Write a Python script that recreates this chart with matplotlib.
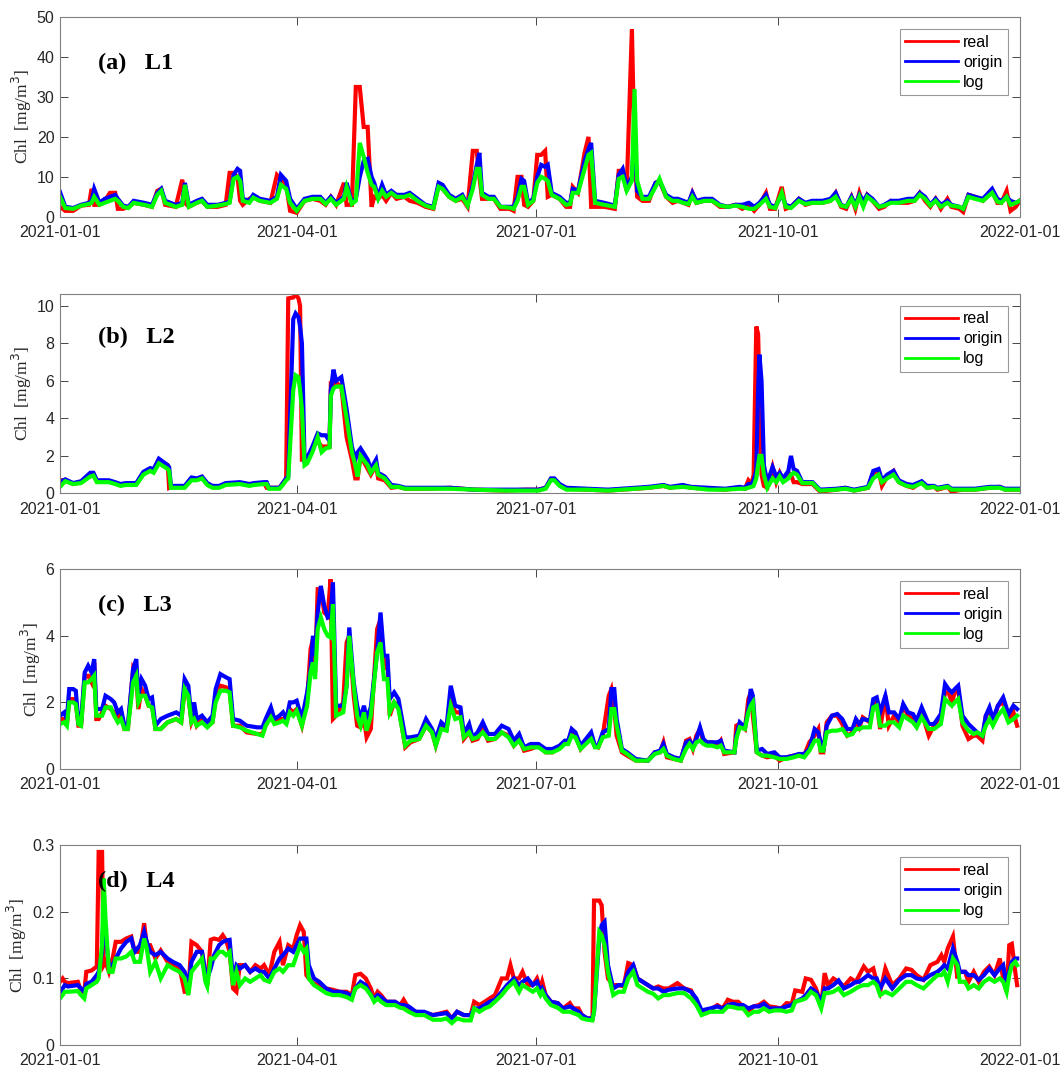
import numpy as np
import pandas as pd
import matplotlib
matplotlib.use("Agg")
import matplotlib.pyplot as plt
import matplotlib.dates as mdates

# Daily chlorophyll series for 2021 at four stations (day of year, mg/m^3)
l1_day = [0, 2, 5, 8, 11, 12, 13, 15, 17, 19, 21, 22, 24, 26, 28, 32, 35, 37, 38.5, 40,
          44, 46.5, 47.5, 49, 52, 54, 56, 60, 63, 64.5, 66, 67.5, 68.5, 69.5, 72, 73.5, 76, 80, 82.5, 84,
          86, 87.5, 90, 93, 96, 99, 101, 103, 105, 108, 109, 111, 112.5, 114, 115.5, 117, 118.5, 119.5, 121, 122.5,
          124, 126, 128, 131, 133, 136, 139, 142, 144, 145.5, 148, 150.5, 153, 155, 157, 158.5, 159.5, 160.5, 163, 165,
          167.5, 171, 172.5, 174, 175.5, 176.5, 178, 180, 181.5, 183, 184.5, 185.5, 187, 190, 192.5, 194, 195, 197, 199.5, 201,
          202, 203.5, 207, 211, 212.5, 214, 215.5, 217.5, 218.5, 219.5, 221.5, 224, 226.5, 228, 230.5, 233, 235, 237, 239, 240.5,
          242, 245, 248, 251, 254, 257, 259.5, 262, 264, 266, 268.5, 270, 272, 274.5, 276, 278, 281, 283.5, 286, 290,
          293, 295, 297, 299, 301, 302.5, 304, 305.5, 307, 309, 311.5, 313.5, 316, 319, 322.5, 325, 327, 329, 331, 333,
          335, 337.5, 339, 342, 343.5, 345.5, 348, 351, 354.5, 356.5, 358, 360, 361.5, 363.5, 365]
l1_real = [2.5, 1.5, 1.5, 2.8, 3.0, 7.0, 3.0, 3.0, 4.0, 6.0, 6.0, 2.0, 2.0, 2.5, 3.5, 3.0, 2.5, 6.5, 7.0, 3.0,
           2.5, 9.3, 3.5, 2.5, 3.5, 4.0, 2.5, 2.5, 3.0, 11.0, 11.0, 10.0, 4.0, 3.0, 4.5, 5.0, 4.0, 3.5, 10.5, 9.5,
           8.0, 1.5, 1.0, 4.0, 4.5, 4.0, 3.0, 5.0, 3.0, 8.5, 3.0, 3.0, 32.5, 32.5, 22.5, 22.5, 2.5, 5.0, 4.5, 5.5,
           4.0, 6.0, 4.5, 5.0, 4.0, 3.5, 2.5, 2.0, 8.0, 7.0, 5.0, 4.0, 4.5, 2.5, 16.5, 16.5, 10.0, 4.5, 4.5, 4.5,
           2.0, 2.0, 1.5, 10.0, 10.0, 3.0, 2.5, 4.0, 15.5, 15.5, 16.5, 5.0, 5.5, 4.5, 2.5, 2.5, 7.5, 6.0, 16.0, 20.0,
           2.5, 2.5, 2.5, 2.0, 11.5, 11.5, 6.5, 47.0, 16.0, 5.0, 4.0, 4.0, 8.5, 9.0, 5.0, 3.5, 4.0, 3.5, 3.0, 6.0,
           3.5, 4.0, 4.0, 2.5, 2.5, 3.0, 2.0, 3.0, 1.5, 3.0, 6.0, 2.0, 2.0, 7.5, 2.0, 2.5, 4.5, 3.0, 3.5, 3.5,
           4.0, 6.0, 2.5, 2.0, 5.0, 2.0, 6.0, 3.0, 5.5, 4.0, 2.0, 2.5, 4.0, 3.5, 3.5, 4.0, 6.0, 4.0, 2.5, 4.5,
           2.0, 4.5, 2.5, 2.0, 1.2, 5.5, 5.0, 4.0, 6.5, 3.5, 3.5, 6.5, 1.5, 2.5, 4.0]
l1_origin = [6.2, 2.5, 2.2, 3.0, 3.5, 4.0, 7.0, 3.5, 4.5, 5.0, 5.5, 4.5, 2.8, 2.5, 4.0, 3.5, 3.0, 6.0, 7.0, 4.0,
             3.0, 3.5, 8.5, 3.0, 4.0, 4.5, 3.0, 3.0, 3.5, 3.8, 10.5, 12.0, 11.5, 4.5, 4.0, 5.5, 4.5, 4.0, 5.0, 10.5,
             9.0, 4.5, 2.0, 4.5, 5.0, 5.0, 3.5, 5.0, 3.5, 5.0, 8.5, 3.5, 4.5, 10.0, 14.0, 14.5, 10.0, 8.5, 5.0, 8.0,
             5.5, 6.5, 5.5, 5.5, 6.0, 4.5, 3.0, 2.5, 8.5, 8.0, 5.5, 4.5, 5.5, 3.0, 8.0, 13.0, 16.0, 6.0, 5.0, 5.0,
             2.5, 2.5, 2.5, 5.0, 9.5, 9.0, 3.5, 4.5, 10.0, 13.0, 12.5, 13.0, 6.0, 5.0, 3.5, 3.5, 7.0, 6.5, 14.0, 17.0,
             18.5, 4.0, 3.5, 2.8, 10.5, 12.0, 7.5, 10.0, 21.0, 6.5, 5.0, 5.0, 8.5, 9.0, 5.5, 4.5, 4.5, 4.0, 3.5, 6.0,
             4.0, 4.5, 4.5, 3.0, 2.5, 3.0, 3.0, 3.5, 2.5, 3.5, 5.5, 3.0, 2.5, 5.5, 3.0, 2.5, 4.5, 3.5, 4.0, 4.0,
             4.5, 6.0, 3.0, 2.5, 5.0, 3.0, 5.5, 4.0, 5.5, 4.5, 2.5, 3.0, 4.0, 4.0, 4.5, 4.5, 6.0, 5.0, 3.0, 4.5,
             3.0, 4.0, 3.0, 2.5, 2.0, 5.5, 5.0, 4.5, 7.0, 4.5, 4.0, 5.0, 4.0, 3.5, 4.0]
l1_log = [5.0, 2.2, 2.0, 2.8, 3.2, 3.5, 5.0, 3.0, 3.5, 4.0, 4.5, 4.0, 2.5, 2.2, 3.5, 3.0, 2.5, 5.5, 6.5, 3.5,
          2.5, 3.0, 8.0, 2.5, 3.5, 4.0, 2.5, 2.8, 3.2, 3.5, 9.5, 10.0, 9.0, 4.0, 3.5, 4.8, 4.0, 3.5, 4.5, 8.0,
          7.0, 3.5, 1.5, 4.0, 4.5, 4.5, 3.2, 4.5, 3.0, 4.5, 7.5, 3.2, 4.0, 18.5, 15.0, 11.0, 8.0, 7.5, 4.5, 6.5,
          5.0, 6.0, 5.0, 5.0, 5.5, 4.0, 2.8, 2.2, 7.5, 7.0, 5.0, 4.0, 5.0, 2.8, 7.0, 12.0, 12.0, 5.5, 4.5, 4.5,
          2.5, 2.3, 2.0, 4.0, 7.5, 7.5, 3.0, 4.0, 8.5, 10.0, 9.5, 9.0, 5.5, 4.5, 3.0, 3.2, 6.0, 6.0, 12.0, 15.5,
          16.0, 3.5, 3.0, 2.5, 9.5, 10.0, 6.5, 9.0, 32.0, 9.0, 4.5, 4.5, 7.5, 9.5, 5.0, 4.0, 4.0, 3.5, 3.2, 5.0,
          3.5, 4.0, 4.0, 2.8, 2.5, 2.8, 2.5, 2.0, 2.0, 3.0, 4.5, 2.5, 2.2, 6.0, 2.5, 2.2, 4.0, 3.2, 3.5, 3.5,
          4.0, 5.0, 2.8, 2.5, 4.5, 2.5, 5.0, 2.5, 5.0, 4.0, 2.5, 2.8, 3.5, 3.5, 4.0, 4.0, 5.5, 4.5, 2.8, 4.0,
          2.5, 3.5, 2.8, 2.5, 2.0, 5.0, 4.5, 4.0, 6.0, 3.8, 3.5, 5.0, 3.0, 3.5, 4.0]

l2_day = [0, 2, 5, 8, 11.5, 12.7, 14, 18.6, 21, 23, 25, 29, 31.7, 34.3, 35.6, 37.6, 41, 41.5, 42.2, 47.4,
          50, 52, 54, 56, 58, 60.5, 63, 68.4, 72, 73.7, 77.6, 78.6, 79.5, 83.5, 85, 86, 86.8, 88.7, 89.6, 90.7,
          91.3, 92, 93, 94, 96, 98, 99.5, 101, 102.5, 103, 104, 105, 107, 109, 111, 112.3, 113.2, 114.3, 117, 118.2,
          120.2, 121, 123.5, 126, 128.7, 131.3, 140.5, 148.4, 157.5, 169.3, 177, 182, 184.7, 186.7, 188, 190, 192.6, 200.5, 208.4, 213.7,
          224, 229.5, 232, 236.8, 240, 246.7, 253, 258.5, 260.5, 261.8, 263, 263.8, 264.8, 265.5, 266, 266.8, 267.7, 269, 271, 272.4,
          273.7, 275, 277, 278, 279, 280.3, 282.3, 286.2, 289, 295.4, 298.7, 302, 307.3, 309.3, 311.3, 312.6, 314.6, 317, 319, 322,
          324.4, 327.7, 329.7, 332.4, 333.7, 337.6, 339, 343, 348, 353.5, 357.4, 359.4, 365]
l2_real = [0.7, 0.7, 0.5, 0.6, 1.0, 1.05, 0.65, 0.65, 0.55, 0.45, 0.5, 0.5, 1.1, 1.3, 1.2, 1.8, 1.5, 0.3, 0.35, 0.35,
           0.8, 0.75, 0.85, 0.5, 0.35, 0.35, 0.5, 0.55, 0.45, 0.5, 0.55, 0.3, 0.3, 0.3, 0.6, 0.8, 10.4, 10.45, 10.6, 10.4,
           10.0, 1.8, 1.8, 1.8, 2.4, 2.8, 2.5, 2.5, 2.5, 5.8, 5.7, 5.9, 5.7, 3.0, 1.8, 0.8, 0.8, 2.0, 1.3, 1.0,
           1.5, 0.8, 0.7, 0.3, 0.35, 0.25, 0.25, 0.3, 0.2, 0.15, 0.2, 0.2, 0.3, 0.75, 0.75, 0.45, 0.25, 0.2, 0.15, 0.2,
           0.3, 0.4, 0.3, 0.4, 0.3, 0.25, 0.2, 0.3, 0.25, 0.7, 0.5, 1.0, 8.9, 8.5, 5.5, 1.0, 0.4, 0.3, 1.4, 0.6,
           1.1, 0.7, 1.1, 1.0, 0.6, 0.6, 0.5, 0.5, 0.1, 0.2, 0.3, 0.15, 0.3, 1.1, 1.2, 0.4, 0.9, 1.2, 0.6, 0.4,
           0.3, 0.6, 0.3, 0.35, 0.2, 0.35, 0.1, 0.2, 0.2, 0.3, 0.35, 0.2, 0.2]
l2_origin = [0.6, 0.75, 0.55, 0.65, 1.1, 1.1, 0.7, 0.7, 0.6, 0.5, 0.55, 0.55, 1.15, 1.35, 1.3, 1.85, 1.5, 1.4, 0.4, 0.4,
             0.85, 0.8, 0.9, 0.55, 0.4, 0.4, 0.55, 0.6, 0.5, 0.55, 0.6, 0.6, 0.3, 0.3, 0.6, 0.8, 0.9, 9.3, 9.6, 9.4,
             8.9, 8.0, 1.8, 1.9, 2.5, 3.2, 3.1, 3.1, 2.8, 5.5, 6.6, 6.0, 6.2, 4.5, 2.5, 1.8, 2.2, 2.4, 1.8, 1.3,
             1.8, 1.1, 0.9, 0.45, 0.4, 0.3, 0.3, 0.3, 0.2, 0.2, 0.2, 0.2, 0.3, 0.8, 0.8, 0.5, 0.3, 0.25, 0.2, 0.25,
             0.35, 0.45, 0.35, 0.45, 0.35, 0.3, 0.25, 0.35, 0.3, 0.5, 0.5, 0.7, 1.2, 5.5, 7.4, 6.0, 1.5, 0.6, 1.4, 0.9,
             1.1, 0.8, 1.2, 2.0, 1.3, 1.2, 0.6, 0.6, 0.2, 0.25, 0.3, 0.2, 0.35, 1.2, 1.3, 0.7, 1.0, 1.2, 0.7, 0.5,
             0.45, 0.65, 0.4, 0.4, 0.3, 0.4, 0.25, 0.25, 0.25, 0.35, 0.35, 0.25, 0.25]
l2_log = [0.35, 0.65, 0.5, 0.55, 0.9, 0.95, 0.6, 0.6, 0.5, 0.4, 0.45, 0.45, 1.0, 1.2, 1.1, 1.6, 1.3, 1.2, 0.3, 0.3,
          0.7, 0.7, 0.8, 0.45, 0.3, 0.3, 0.45, 0.5, 0.4, 0.45, 0.5, 0.5, 0.25, 0.25, 0.5, 0.7, 0.8, 5.5, 6.3, 6.2,
          5.5, 4.5, 1.5, 1.6, 2.2, 3.0, 2.2, 2.4, 2.45, 5.2, 5.6, 5.7, 5.7, 4.0, 2.2, 1.5, 0.9, 2.0, 1.5, 1.1,
          1.5, 1.0, 0.8, 0.35, 0.35, 0.25, 0.25, 0.25, 0.2, 0.15, 0.15, 0.15, 0.25, 0.7, 0.7, 0.4, 0.2, 0.2, 0.15, 0.2,
          0.3, 0.4, 0.3, 0.35, 0.3, 0.2, 0.2, 0.25, 0.25, 0.3, 0.35, 0.4, 0.8, 1.5, 2.0, 2.0, 1.0, 0.3, 0.8, 0.6,
          0.9, 0.6, 0.8, 1.0, 1.1, 1.0, 0.55, 0.55, 0.15, 0.2, 0.25, 0.15, 0.3, 0.8, 1.0, 0.6, 0.8, 1.0, 0.6, 0.4,
          0.35, 0.55, 0.3, 0.35, 0.25, 0.35, 0.2, 0.2, 0.2, 0.3, 0.3, 0.2, 0.2]

l3_day = [0, 1.6, 2.6, 3.5, 5, 6, 7, 8, 9.4, 10.7, 12, 13, 13.8, 14.7, 16, 17.3, 19.3, 20.6, 22, 23.2,
          24.5, 25.8, 27.8, 29, 29.8, 31, 32.4, 33.7, 35, 36.3, 38.3, 40.9, 44.2, 46.1, 47.4, 48.8, 50, 51, 52, 54,
          56, 58, 59.2, 61, 63.2, 64.5, 65.8, 68.4, 71, 75, 77, 78.2, 80.2, 81.5, 83.5, 84.8, 86.1, 87.4, 88.7, 90,
          92, 94, 95.3, 96.2, 97, 98, 99.2, 100.5, 101.8, 102.9, 103.8, 105, 107.7, 109, 110, 111.7, 113, 114.3, 115.6, 116.6,
          118.2, 120.6, 121.9, 123.2, 124.5, 125.4, 127.1, 128.7, 131.3, 133.3, 136.6, 139.2, 141.5, 142.9, 145, 147, 148.6, 150.3, 152.3, 153.6,
          155.6, 156.9, 158.8, 160.8, 162.8, 165.4, 168, 170.6, 172.6, 174.6, 176.5, 179, 182, 184.7, 187.3, 190, 192, 193.3, 194.6, 196,
          198, 200, 202, 203.4, 204.7, 206.4, 208.7, 209.7, 210.8, 211.7, 213.7, 215.7, 219, 223.6, 226.2, 228.2, 229.5, 230.8, 233.5, 236.1,
          238.1, 239.4, 240.7, 242, 243.4, 244.7, 246, 248, 250, 251.3, 252.6, 256.5, 257.2, 258.5, 260.5, 261.8, 262.7, 263.5, 265, 267,
          269, 271.7, 273.7, 276.3, 279, 281, 283, 285, 287, 288.4, 289.3, 290.3, 291.6, 293.6, 295.6, 297.5, 299.4, 301.4, 302.7, 304,
          305.3, 308, 309.3, 310.6, 311.9, 313.9, 315.2, 317.2, 319.2, 320.7, 322.5, 324.4, 325.8, 327.7, 330.4, 332.4, 335, 336.6, 337.9, 339.2,
          340.3, 341.6, 343.2, 345.5, 347.5, 348.8, 350.8, 352.1, 353.5, 354.8, 356.7, 358.7, 360.7, 362.6, 364]
l3_real = [1.5, 1.5, 1.3, 2.1, 2.1, 2.0, 1.3, 1.3, 2.8, 2.8, 2.6, 3.2, 1.5, 1.5, 1.7, 1.9, 1.8, 1.7, 1.5, 1.7,
           1.2, 1.2, 3.0, 2.8, 1.8, 2.4, 2.2, 1.9, 1.9, 1.2, 1.2, 1.4, 1.5, 1.4, 2.4, 2.2, 1.4, 1.6, 1.3, 1.5,
           1.3, 1.4, 2.2, 2.5, 2.45, 2.4, 1.3, 1.3, 1.1, 1.05, 1.05, 1.3, 1.6, 1.4, 1.5, 1.5, 1.4, 1.8, 1.7, 1.8,
           1.3, 2.1, 3.6, 3.9, 2.9, 5.4, 5.4, 4.7, 4.6, 5.7, 1.5, 1.6, 2.0, 3.8, 4.0, 2.2, 1.3, 1.25, 1.5, 0.95,
           1.2, 4.2, 4.5, 3.0, 3.3, 1.6, 2.0, 1.9, 0.65, 0.8, 0.9, 1.3, 1.1, 0.7, 1.3, 1.2, 2.1, 1.7, 1.7, 0.9,
           1.1, 0.85, 0.9, 1.2, 0.85, 0.9, 1.1, 1.0, 0.7, 0.9, 0.55, 0.6, 0.7, 0.5, 0.5, 0.65, 0.8, 0.8, 1.15, 1.0,
           0.6, 0.8, 1.0, 0.7, 0.65, 1.0, 2.2, 2.4, 1.8, 1.0, 0.5, 0.4, 0.25, 0.25, 0.5, 0.5, 0.8, 0.35, 0.3, 0.25,
           0.85, 0.9, 0.6, 1.0, 1.2, 0.8, 0.8, 0.8, 0.7, 0.85, 0.45, 0.5, 1.3, 1.35, 1.2, 2.1, 2.3, 1.6, 0.5, 0.4,
           0.35, 0.4, 0.25, 0.35, 0.4, 0.4, 0.4, 0.8, 1.0, 1.2, 0.5, 0.5, 1.4, 1.6, 1.6, 1.35, 1.0, 1.1, 1.45, 1.25,
           1.55, 1.4, 1.9, 2.0, 1.2, 2.2, 1.3, 1.6, 1.4, 1.9, 1.6, 1.5, 1.3, 1.7, 1.0, 1.3, 1.6, 2.3, 2.3, 2.0,
           2.3, 2.4, 1.3, 0.9, 1.0, 1.0, 0.85, 1.6, 1.75, 1.4, 1.9, 2.0, 1.5, 1.7, 1.3]
l3_origin = [1.6, 1.7, 1.5, 2.4, 2.4, 2.35, 1.4, 1.4, 2.9, 3.1, 2.9, 3.3, 1.8, 1.8, 1.8, 2.2, 2.1, 2.0, 1.7, 1.8,
             1.3, 1.3, 3.0, 3.3, 2.2, 2.7, 2.5, 2.1, 2.15, 1.3, 1.5, 1.6, 1.7, 1.6, 2.7, 2.5, 1.5, 2.0, 1.5, 1.6,
             1.4, 1.6, 2.4, 2.85, 2.75, 2.7, 1.5, 1.45, 1.3, 1.25, 1.25, 1.5, 1.85, 1.5, 1.6, 1.7, 1.5, 2.0, 2.0, 2.05,
             1.5, 2.3, 3.0, 4.0, 3.4, 4.7, 5.5, 4.9, 4.55, 4.6, 5.6, 1.9, 1.9, 2.5, 4.25, 2.6, 1.9, 1.5, 1.9, 1.5,
             1.85, 3.5, 4.7, 3.4, 3.4, 2.1, 2.3, 2.1, 0.95, 0.95, 1.0, 1.5, 1.2, 0.9, 1.4, 1.25, 2.5, 1.9, 1.85, 1.05,
             1.35, 0.95, 1.1, 1.4, 1.05, 1.05, 1.3, 1.2, 0.85, 1.05, 0.65, 0.75, 0.75, 0.6, 0.6, 0.7, 0.85, 0.85, 1.2, 1.1,
             0.7, 0.9, 1.1, 0.7, 0.7, 1.1, 1.2, 2.4, 2.4, 1.5, 0.6, 0.5, 0.3, 0.25, 0.5, 0.55, 0.75, 0.45, 0.35, 0.3,
             0.8, 0.85, 0.7, 0.9, 1.25, 0.9, 0.8, 0.8, 0.8, 0.85, 0.55, 0.5, 1.0, 1.4, 1.25, 1.8, 2.4, 2.2, 0.55, 0.6,
             0.45, 0.5, 0.35, 0.35, 0.4, 0.45, 0.45, 0.6, 1.2, 1.1, 0.8, 0.55, 1.3, 1.6, 1.65, 1.5, 1.2, 1.2, 1.5, 1.35,
             1.5, 1.45, 2.1, 2.15, 1.7, 2.2, 1.7, 1.7, 1.5, 1.95, 1.7, 1.65, 1.45, 1.85, 1.35, 1.35, 1.65, 2.55, 2.4, 2.3,
             2.4, 2.5, 1.6, 1.35, 1.2, 1.1, 1.0, 1.6, 1.85, 1.5, 1.9, 2.15, 1.65, 1.9, 1.8]
l3_log = [1.35, 1.4, 1.3, 2.0, 2.0, 1.95, 1.35, 1.3, 2.6, 2.6, 2.7, 2.8, 1.6, 1.6, 1.6, 1.85, 1.85, 1.6, 1.4, 1.5,
          1.2, 1.2, 2.6, 2.8, 2.0, 2.2, 2.2, 1.9, 1.85, 1.2, 1.2, 1.4, 1.5, 1.4, 2.4, 2.2, 1.4, 1.5, 1.3, 1.4,
          1.25, 1.4, 2.0, 2.35, 2.35, 2.3, 1.3, 1.25, 1.15, 1.05, 1.0, 1.3, 1.55, 1.35, 1.4, 1.45, 1.35, 1.7, 1.6, 1.75,
          1.3, 1.9, 2.9, 3.2, 2.7, 4.2, 4.55, 4.2, 4.0, 3.95, 4.95, 1.6, 1.7, 2.5, 4.0, 2.5, 1.6, 1.3, 1.7, 1.15,
          1.6, 3.5, 3.8, 2.7, 2.7, 1.7, 2.0, 1.8, 0.7, 0.85, 0.9, 1.3, 1.1, 0.7, 1.2, 1.15, 1.9, 1.5, 1.55, 0.95,
          1.1, 0.9, 0.95, 1.1, 0.9, 0.9, 1.1, 0.95, 0.7, 0.85, 0.6, 0.65, 0.65, 0.5, 0.5, 0.6, 0.75, 0.75, 1.0, 0.95,
          0.6, 0.75, 0.9, 0.65, 0.65, 0.95, 1.0, 1.8, 1.8, 1.3, 0.55, 0.45, 0.25, 0.25, 0.45, 0.5, 0.6, 0.4, 0.3, 0.25,
          0.6, 0.75, 0.6, 0.8, 0.85, 0.75, 0.7, 0.7, 0.65, 0.7, 0.5, 0.5, 0.9, 1.25, 1.2, 1.7, 1.9, 2.0, 0.5, 0.4,
          0.4, 0.35, 0.3, 0.3, 0.35, 0.4, 0.35, 0.55, 0.85, 0.85, 0.55, 0.55, 1.1, 1.15, 1.15, 1.2, 1.0, 1.05, 1.2, 1.2,
          1.25, 1.25, 1.85, 1.9, 1.3, 1.3, 1.4, 1.4, 1.25, 1.6, 1.5, 1.4, 1.25, 1.55, 1.2, 1.2, 1.35, 2.1, 2.0, 1.9,
          2.0, 2.1, 1.4, 1.15, 1.05, 1.1, 1.0, 1.3, 1.5, 1.3, 1.6, 1.8, 1.4, 1.5, 1.6]

l4_day = [0, 1, 1.8, 3, 6.8, 8, 9.2, 10, 12, 14, 14.7, 16, 16.6, 17.3, 18.6, 20, 21.2, 23.2, 25.2, 27.1,
          28.4, 30.4, 32, 33, 34.3, 36.3, 38.3, 40.9, 42.9, 45.5, 47.4, 48.8, 50, 52, 54, 55.3, 56, 57.3, 58.6, 60.5,
          61.9, 63.2, 64.5, 65.8, 67.1, 68.4, 70.4, 72.3, 74.3, 76.3, 77.6, 79.6, 81.5, 83.5, 84.8, 86.8, 88.7, 90, 91.3, 92.7,
          93.7, 94.6, 96.6, 98.6, 101.2, 103.8, 106.4, 109, 111, 112.3, 114.3, 116.3, 118.2, 119.5, 120.8, 122.1, 124.1, 127.4, 129.4, 130.7,
          132.6, 135.3, 138.5, 141.8, 145.1, 147, 149, 151, 153.6, 156.2, 157.5, 159.5, 161.5, 163.4, 165.4, 168, 170, 171.3, 172.6, 174.6,
          175.9, 177.9, 179.8, 181.4, 182.7, 183.4, 184.7, 186.7, 189.3, 191.3, 193.9, 195.2, 197.2, 198.5, 200.5, 202.5, 203.1, 205.1, 206, 207.1,
          208.4, 210.4, 212.4, 214.4, 216.1, 218, 219.6, 221.6, 223.6, 225.6, 227.5, 229.5, 231.5, 234.8, 237.4, 240, 242, 244, 247.3, 250,
          252, 254, 255.9, 257.9, 259.8, 261.8, 263.8, 265.8, 267.7, 269.7, 271.7, 274.3, 276.3, 278.3, 279.6, 282.3, 283.6, 285.6, 287.5, 289.5,
          290.8, 292.1, 294.1, 296.1, 298.1, 300.7, 302.7, 304, 305.7, 307.3, 309.3, 310.6, 311.9, 313.9, 316.5, 319.2, 321.8, 323.8, 325.8, 328.4,
          331, 333.7, 335.2, 336.3, 337.6, 339.6, 341.3, 342.2, 344.2, 345.5, 347.5, 349.4, 351.4, 353.4, 355.4, 357.4, 358.7, 360, 361, 362,
          363.3, 364]
l4_real = [0.095, 0.1, 0.095, 0.093, 0.095, 0.08, 0.079, 0.11, 0.112, 0.118, 0.29, 0.29, 0.12, 0.125, 0.11, 0.13, 0.155, 0.155, 0.16, 0.163,
           0.14, 0.14, 0.183, 0.15, 0.15, 0.13, 0.142, 0.125, 0.12, 0.115, 0.08, 0.08, 0.155, 0.15, 0.14, 0.1, 0.09, 0.158, 0.16, 0.158,
           0.165, 0.157, 0.14, 0.085, 0.08, 0.12, 0.12, 0.11, 0.12, 0.115, 0.12, 0.105, 0.14, 0.155, 0.12, 0.15, 0.145, 0.165, 0.18, 0.17,
           0.105, 0.1, 0.092, 0.09, 0.085, 0.083, 0.08, 0.08, 0.075, 0.105, 0.107, 0.1, 0.085, 0.07, 0.08, 0.075, 0.065, 0.065, 0.06, 0.068,
           0.055, 0.05, 0.048, 0.045, 0.048, 0.05, 0.04, 0.05, 0.045, 0.045, 0.065, 0.06, 0.065, 0.07, 0.075, 0.1, 0.1, 0.12, 0.1, 0.1,
           0.11, 0.09, 0.09, 0.1, 0.085, 0.095, 0.075, 0.065, 0.063, 0.055, 0.063, 0.055, 0.055, 0.045, 0.04, 0.04, 0.217, 0.217, 0.21, 0.14,
           0.1, 0.09, 0.09, 0.088, 0.123, 0.12, 0.1, 0.095, 0.09, 0.085, 0.088, 0.085, 0.085, 0.093, 0.085, 0.082, 0.065, 0.05, 0.053, 0.06,
           0.055, 0.068, 0.065, 0.065, 0.058, 0.05, 0.058, 0.06, 0.065, 0.058, 0.057, 0.055, 0.063, 0.062, 0.082, 0.08, 0.1, 0.098, 0.085, 0.06,
           0.108, 0.09, 0.1, 0.095, 0.088, 0.1, 0.095, 0.105, 0.118, 0.11, 0.115, 0.095, 0.08, 0.115, 0.09, 0.1, 0.115, 0.113, 0.105, 0.098,
           0.12, 0.125, 0.135, 0.125, 0.145, 0.163, 0.1, 0.11, 0.11, 0.095, 0.11, 0.095, 0.11, 0.118, 0.105, 0.13, 0.1, 0.08, 0.15, 0.152,
           0.11, 0.09]
l4_origin = [0.078, 0.085, 0.09, 0.088, 0.09, 0.085, 0.08, 0.092, 0.095, 0.105, 0.11, 0.14, 0.2, 0.165, 0.12, 0.12, 0.13, 0.145, 0.155, 0.16,
             0.14, 0.15, 0.17, 0.155, 0.14, 0.135, 0.14, 0.13, 0.125, 0.12, 0.11, 0.09, 0.125, 0.14, 0.14, 0.11, 0.1, 0.115, 0.135, 0.15,
             0.155, 0.157, 0.158, 0.1, 0.12, 0.115, 0.12, 0.11, 0.115, 0.11, 0.11, 0.1, 0.115, 0.13, 0.135, 0.145, 0.14, 0.15, 0.16, 0.16,
             0.16, 0.12, 0.1, 0.095, 0.085, 0.08, 0.08, 0.078, 0.073, 0.085, 0.095, 0.09, 0.075, 0.07, 0.075, 0.072, 0.065, 0.065, 0.06, 0.06,
             0.058, 0.05, 0.05, 0.045, 0.047, 0.048, 0.04, 0.05, 0.045, 0.045, 0.055, 0.055, 0.06, 0.065, 0.068, 0.08, 0.09, 0.095, 0.1, 0.09,
             0.095, 0.1, 0.09, 0.095, 0.08, 0.085, 0.075, 0.065, 0.063, 0.055, 0.058, 0.055, 0.05, 0.045, 0.04, 0.04, 0.05, 0.16, 0.18, 0.185,
             0.12, 0.085, 0.09, 0.09, 0.11, 0.12, 0.1, 0.095, 0.09, 0.085, 0.085, 0.08, 0.083, 0.085, 0.085, 0.08, 0.07, 0.052, 0.055, 0.058,
             0.055, 0.06, 0.062, 0.06, 0.06, 0.055, 0.058, 0.058, 0.062, 0.055, 0.055, 0.055, 0.058, 0.06, 0.065, 0.07, 0.075, 0.085, 0.08, 0.065,
             0.085, 0.085, 0.09, 0.097, 0.085, 0.09, 0.095, 0.095, 0.1, 0.105, 0.1, 0.1, 0.085, 0.1, 0.085, 0.098, 0.105, 0.105, 0.1, 0.098,
             0.105, 0.11, 0.115, 0.12, 0.115, 0.145, 0.125, 0.11, 0.11, 0.105, 0.105, 0.098, 0.105, 0.115, 0.105, 0.115, 0.12, 0.09, 0.11, 0.125,
             0.13, 0.13]
l4_log = [0.07, 0.075, 0.08, 0.08, 0.081, 0.075, 0.07, 0.085, 0.09, 0.095, 0.1, 0.15, 0.25, 0.19, 0.11, 0.11, 0.13, 0.13, 0.133, 0.14,
          0.125, 0.125, 0.16, 0.145, 0.11, 0.125, 0.1, 0.12, 0.115, 0.11, 0.1, 0.075, 0.11, 0.12, 0.13, 0.095, 0.088, 0.13, 0.13, 0.14,
          0.14, 0.135, 0.14, 0.09, 0.11, 0.09, 0.1, 0.095, 0.1, 0.105, 0.098, 0.095, 0.11, 0.115, 0.11, 0.12, 0.12, 0.135, 0.15, 0.14,
          0.145, 0.1, 0.09, 0.085, 0.078, 0.075, 0.075, 0.072, 0.068, 0.085, 0.09, 0.085, 0.075, 0.065, 0.07, 0.065, 0.06, 0.06, 0.056, 0.055,
          0.05, 0.045, 0.045, 0.038, 0.038, 0.04, 0.033, 0.04, 0.037, 0.037, 0.055, 0.05, 0.055, 0.058, 0.065, 0.075, 0.085, 0.09, 0.095, 0.08,
          0.09, 0.085, 0.08, 0.085, 0.075, 0.08, 0.07, 0.06, 0.056, 0.05, 0.05, 0.048, 0.045, 0.04, 0.038, 0.037, 0.05, 0.17, 0.165, 0.15,
          0.11, 0.075, 0.08, 0.08, 0.1, 0.11, 0.09, 0.085, 0.08, 0.077, 0.07, 0.075, 0.075, 0.078, 0.078, 0.07, 0.06, 0.045, 0.05, 0.05,
          0.05, 0.058, 0.057, 0.055, 0.055, 0.045, 0.05, 0.05, 0.055, 0.05, 0.052, 0.052, 0.05, 0.052, 0.065, 0.068, 0.07, 0.08, 0.075, 0.055,
          0.078, 0.078, 0.08, 0.085, 0.075, 0.08, 0.085, 0.088, 0.09, 0.09, 0.095, 0.09, 0.075, 0.08, 0.075, 0.085, 0.095, 0.095, 0.09, 0.085,
          0.095, 0.105, 0.105, 0.11, 0.095, 0.13, 0.12, 0.095, 0.095, 0.085, 0.09, 0.085, 0.095, 0.1, 0.095, 0.1, 0.095, 0.08, 0.105, 0.12,
          0.125, 0.12]

panels = [
    ("(a)   L1", l1_day, l1_real, l1_origin, l1_log, 50, [0, 10, 20, 30, 40, 50], 0.77),
    ("(b)   L2", l2_day, l2_real, l2_origin, l2_log, 10.65, [0, 2, 4, 6, 8, 10], 0.78),
    ("(c)   L3", l3_day, l3_real, l3_origin, l3_log, 6, [0, 2, 4, 6], 0.82),
    ("(d)   L4", l4_day, l4_real, l4_origin, l4_log, 0.3, [0, 0.1, 0.2, 0.3], 0.82),
]
series_names = ["real", "origin", "log"]
series_colors = ["#ff0000", "#0000ff", "#00ff00"]
xtick_dates = ["2021-01-01", "2021-04-01", "2021-07-01", "2021-10-01", "2022-01-01"]

start = pd.Timestamp("2021-01-01")
axis_gray = "#262626"

fig = plt.figure(figsize=(10.64, 10.68), dpi=100)
bottoms = [0.797, 0.538, 0.280, 0.0215]

for (label, days, real, origin, logv, ytop, yticks, ly), bottom in zip(panels, bottoms):
    ax = fig.add_axes([0.0564, bottom, 0.902, 0.187])
    t = start + pd.to_timedelta(np.array(days, dtype=float), unit="D")
    for vals, name, col in zip([real, origin, logv], series_names, series_colors):
        ax.plot(t, vals, color=col, lw=3.0, label=name, solid_joinstyle="miter")

    ax.set_xlim(pd.Timestamp(xtick_dates[0]), pd.Timestamp(xtick_dates[-1]))
    ax.set_xticks([pd.Timestamp(d) for d in xtick_dates])
    ax.xaxis.set_major_formatter(mdates.DateFormatter("%Y-%m-%d"))
    ax.set_ylim(0, ytop)
    ax.set_yticks(yticks)
    ax.set_yticklabels([f"{v:g}" for v in yticks])

    ax.tick_params(direction="in", top=True, right=True, length=6, width=0.6,
                   colors=axis_gray, labelsize=11.5)
    ax.tick_params(axis="y", pad=4)
    ax.tick_params(axis="x", pad=6)
    for lab in ax.get_xticklabels() + ax.get_yticklabels():
        lab.set_fontfamily("Liberation Sans")
    for sp in ax.spines.values():
        sp.set_color("#808080")
        sp.set_linewidth(0.8)

    ax.set_ylabel("Chl  [mg/m$^3$]", fontfamily="Liberation Serif", fontsize=12.5,
                  color=axis_gray, labelpad=2)
    ax.text(0.04, ly, label, transform=ax.transAxes, fontfamily="Liberation Serif",
            fontweight="bold", fontsize=17.5, va="center", ha="left", color="black")

    leg = ax.legend(loc="upper right", handlelength=3.3, frameon=True,
                    fancybox=False, borderaxespad=0.75, labelspacing=0.32,
                    handletextpad=0.3, borderpad=0.35,
                    prop={"family": "Liberation Sans", "size": 11.5})
    leg.get_frame().set_edgecolor("#808080")
    leg.get_frame().set_linewidth(0.8)
    for line in leg.get_lines():
        line.set_linewidth(2.0)

fig.savefig("out.png", dpi=100)
